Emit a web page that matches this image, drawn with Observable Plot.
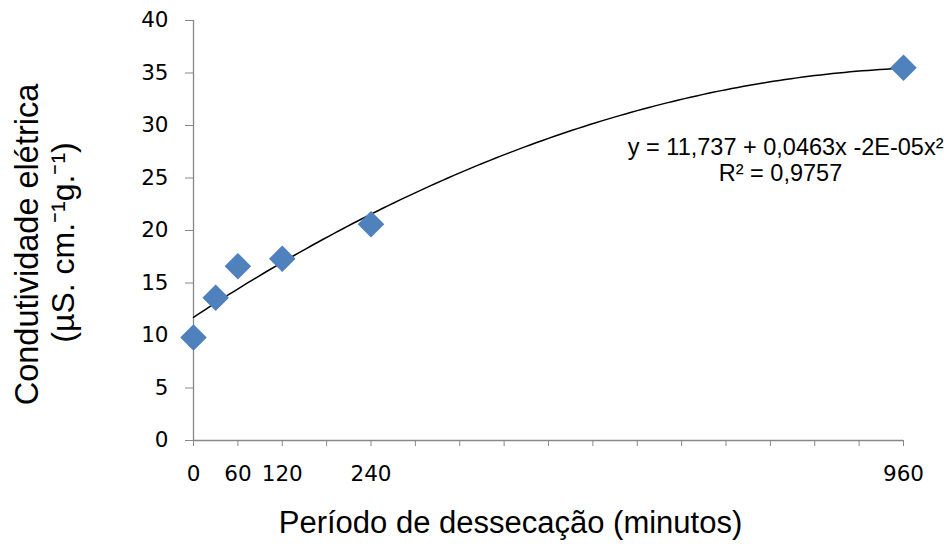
<!DOCTYPE html>
<html><head><meta charset="utf-8">
<script src="https://cdn.jsdelivr.net/npm/d3@7"></script>
<script src="https://cdn.jsdelivr.net/npm/@observablehq/plot@0.6"></script>
<style>body{margin:0;background:#fff}</style>
</head><body><div id="chart"></div>
<script>
const periods = [0, 30, 60, 120, 240, 960];
const conductivity = [9.8, 13.6, 16.6, 17.3, 20.6, 35.5];
const xTickLabels = [0, 60, 120, 240, 960];
const yTicks = [0, 5, 10, 15, 20, 25, 30, 35, 40];
const fitCoef = [11.737, 0.0463, -0.0000225];
const equationText = "y = 11,737 + 0,0463x -2E-05x²";
const r2Text = "R² = 0,9757";

const points = periods.map((p, i) => ({x: p, y: conductivity[i]}));
const curve = d3.range(0, 961, 8).map(x => ({x, y: fitCoef[0] + fitCoef[1]*x + fitCoef[2]*x*x}));

const tickFont = "DejaVu Sans, sans-serif";
const titleFont = "Liberation Sans, sans-serif";
const plot = Plot.plot({
  width: 944, height: 547,
  marginLeft: 193, marginRight: 41, marginTop: 20, marginBottom: 107,
  style: {fontFamily: "Liberation Sans, sans-serif", fontSize: "20px", color: "#000", background: "#fff"},
  x: {domain: [0, 960]},
  y: {domain: [0, 40]},
  marks: [
    Plot.axisY({ticks: yTicks, tickSize: 8, tickFormat: () => "", stroke: "#888", label: null}),
    Plot.axisX({ticks: d3.range(0, 961, 60), tickSize: 6, tickFormat: () => "", stroke: "#888", label: null}),
    Plot.text(yTicks, {x: () => 0, y: d => d, text: d => String(d), dx: -25, textAnchor: "end", fontFamily: tickFont, fontSize: 21.5, fill: "#000"}),
    Plot.text(xTickLabels, {x: d => d, text: d => String(d), frameAnchor: "bottom", lineAnchor: "top", dy: 25, fontFamily: tickFont, fontSize: 21.5, fill: "#000"}),
    Plot.ruleY([0], {stroke: "#888", strokeWidth: 1.3}),
    Plot.ruleX([0], {stroke: "#888", strokeWidth: 1.3}),
    Plot.line(curve, {x: "x", y: "y", stroke: "#000", strokeWidth: 1.5}),
    Plot.dot(points, {x: "x", y: "y", symbol: "diamond2", r: 11, fill: "#4F81BD", stroke: "#4F81BD"}),
    Plot.text([equationText], {text: d => d, frameAnchor: "top-right", dx: 40, dy: 118, textAnchor: "end", fontFamily: titleFont, fontSize: 23.5}),
    Plot.text([r2Text], {text: d => d, frameAnchor: "top-right", dx: -123, dy: 144, textAnchor: "middle", fontFamily: titleFont, fontSize: 23.5}),
    Plot.text(["Período de dessecação (minutos)"], {text: d => d, frameAnchor: "bottom", dx: -38, dy: 92, fontFamily: titleFont, fontSize: 31}),
    Plot.text(["Condutividade elétrica"], {text: d => d, frameAnchor: "left", textAnchor: "middle", rotate: -90, dx: -166, dy: 14, fontFamily: titleFont, fontSize: 32.5}),
    Plot.text(["(µS. cm.⁻¹g.⁻¹)"], {text: d => d, frameAnchor: "left", textAnchor: "middle", rotate: -90, dx: -130, dy: 12, fontFamily: titleFont, fontSize: 32}),
  ]
});
document.getElementById("chart").append(plot);
</script>
</body></html>
